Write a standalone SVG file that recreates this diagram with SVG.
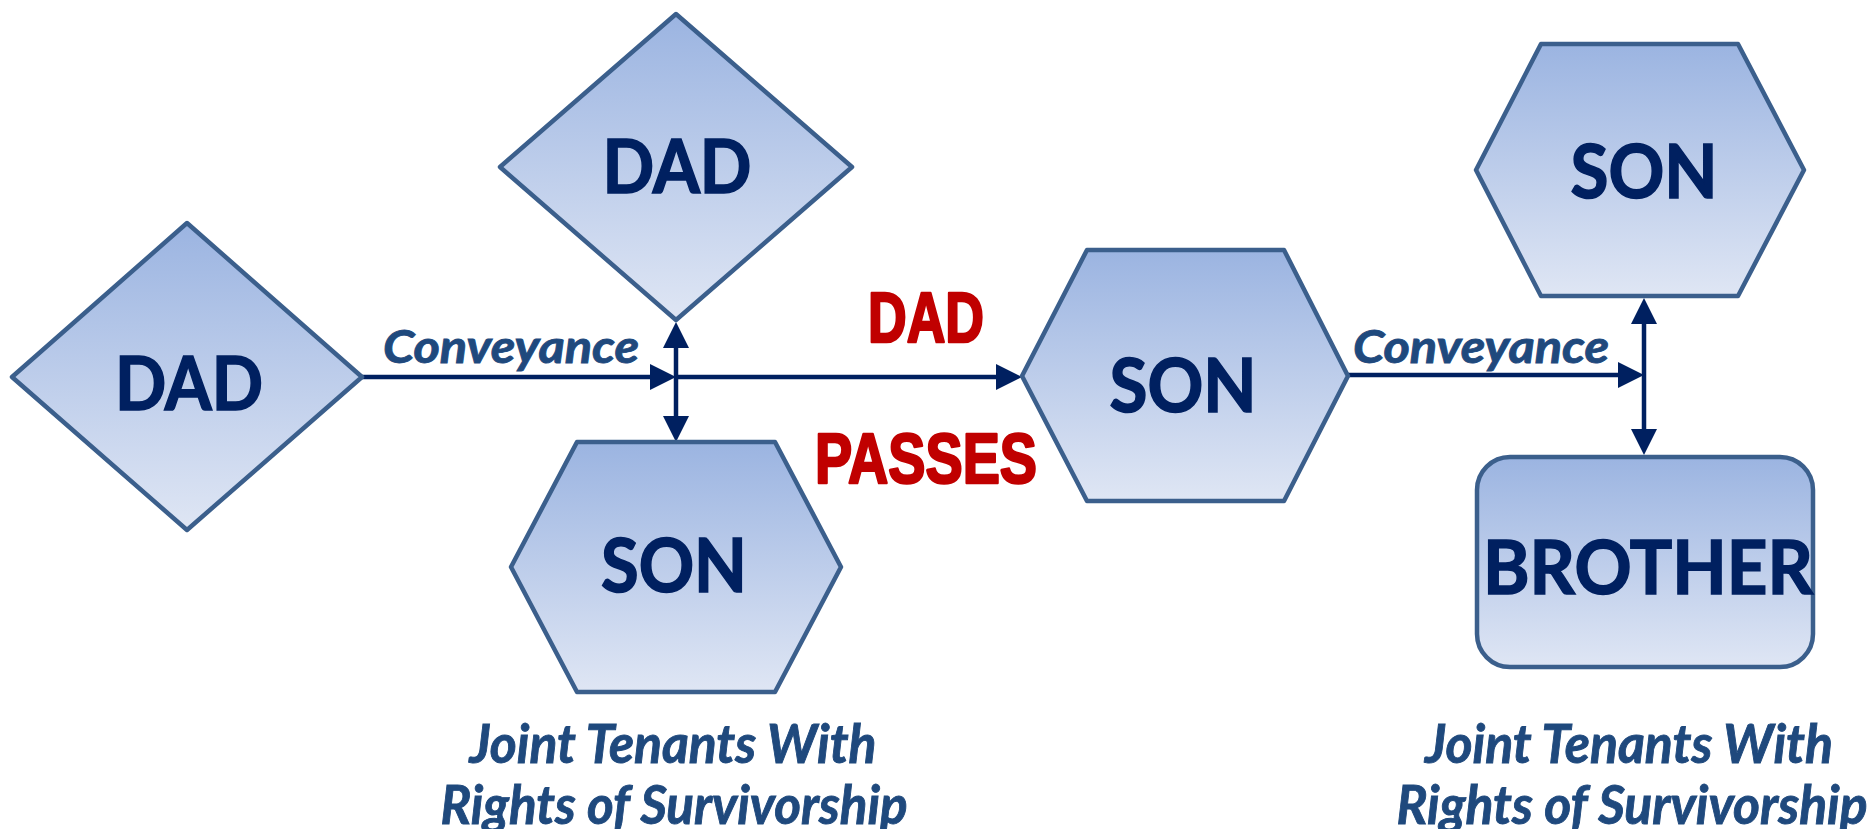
<svg xmlns="http://www.w3.org/2000/svg" width="1872" height="829" viewBox="0 0 1872 829">
  <style>
    .shape { fill: url(#g); stroke: #3b5f8c; stroke-width: 4.5; stroke-linejoin: round; }
    .lbl { font-family: Lato, "Open Sans", "Liberation Sans", sans-serif; font-weight: bold; fill: #002060; stroke: #002060; stroke-width: 1.6; font-size: 75px; text-anchor: middle; }
    .red { font-family: "Liberation Sans Narrow", "Liberation Sans", Arial, sans-serif; font-weight: bold; fill: #c00000; stroke: #c00000; stroke-width: 2.6; stroke-linejoin: round; font-size: 70px; text-anchor: middle; }
    .ital { font-family: Lato, "Open Sans", "Liberation Sans", sans-serif; font-weight: bold; font-style: italic; fill: #1f497d; stroke: #1f497d; stroke-width: 0.9; text-anchor: middle; }
    .conn { stroke: #002060; stroke-width: 4.5; fill: none; }
  </style>
  <defs>
    <linearGradient id="g" x1="0" y1="0" x2="0" y2="1">
      <stop offset="0" stop-color="#9bb4e1"/>
      <stop offset="1" stop-color="#dfe6f4"/>
    </linearGradient>
    <marker id="arrow" viewBox="0 0 26 26" refX="20" refY="13" markerWidth="26" markerHeight="26" markerUnits="userSpaceOnUse" orient="auto-start-reverse">
      <path d="M0,0 L26,13 L0,26 z" fill="#002060"/>
    </marker>
  </defs>

  <g id="connectors">
    <line class="conn" x1="362" y1="377" x2="670" y2="377" marker-end="url(#arrow)"/>
    <line class="conn" x1="676" y1="377" x2="1016" y2="377" marker-end="url(#arrow)"/>
    <line class="conn" x1="676" y1="328" x2="676" y2="436" marker-start="url(#arrow)" marker-end="url(#arrow)"/>
    <line class="conn" x1="1348" y1="375" x2="1638" y2="375" marker-end="url(#arrow)"/>
    <line class="conn" x1="1644" y1="304" x2="1644" y2="449" marker-start="url(#arrow)" marker-end="url(#arrow)"/>
  </g>

  <g id="node-dad-left">
    <polygon class="shape" points="12,377 187,223 362,377 187,530"/>
    <text class="lbl" x="189" y="410" textLength="148" lengthAdjust="spacingAndGlyphs">DAD</text>
  </g>

  <g id="node-dad-top">
    <polygon class="shape" points="500,167 676,14 852,167 676,320"/>
    <text class="lbl" x="677" y="193" textLength="149" lengthAdjust="spacingAndGlyphs">DAD</text>
  </g>

  <g id="node-son-bottom">
    <polygon class="shape" points="577,442 775,442 841,567 775,692 577,692 511,567"/>
    <text class="lbl" x="674" y="592" textLength="146" lengthAdjust="spacingAndGlyphs">SON</text>
  </g>

  <g id="node-son-middle">
    <polygon class="shape" points="1087,250 1284,250 1348,376 1284,501 1087,501 1022,376"/>
    <text class="lbl" x="1183" y="412" textLength="147" lengthAdjust="spacingAndGlyphs">SON</text>
  </g>

  <g id="node-son-topright">
    <polygon class="shape" points="1541,44 1738,44 1804,170 1738,296 1541,296 1476,170"/>
    <text class="lbl" x="1644" y="198" textLength="147" lengthAdjust="spacingAndGlyphs">SON</text>
  </g>

  <g id="node-brother">
    <rect class="shape" x="1477" y="457" width="336" height="210" rx="33" ry="33"/>
    <text class="lbl" x="1648" y="594" textLength="330" lengthAdjust="spacingAndGlyphs">BROTHER</text>
  </g>

  <g id="labels">
    <text class="red" x="926" y="342" textLength="116" lengthAdjust="spacingAndGlyphs">DAD</text>
    <text class="red" x="926" y="483" textLength="222" lengthAdjust="spacingAndGlyphs">PASSES</text>
    <text class="ital" x="511" y="363" font-size="45" textLength="256" lengthAdjust="spacingAndGlyphs">Conveyance</text>
    <text class="ital" x="1481" y="363" font-size="45" textLength="256" lengthAdjust="spacingAndGlyphs">Conveyance</text>
    <text class="ital" x="673" y="763" font-size="53" textLength="407" lengthAdjust="spacingAndGlyphs">Joint Tenants With</text>
    <text class="ital" x="674" y="824" font-size="53" textLength="467" lengthAdjust="spacingAndGlyphs">Rights of Survivorship</text>
    <text class="ital" x="1629" y="763" font-size="53" textLength="408" lengthAdjust="spacingAndGlyphs">Joint Tenants With</text>
    <text class="ital" x="1632" y="824" font-size="53" textLength="471" lengthAdjust="spacingAndGlyphs">Rights of Survivorship</text>
  </g>
</svg>
